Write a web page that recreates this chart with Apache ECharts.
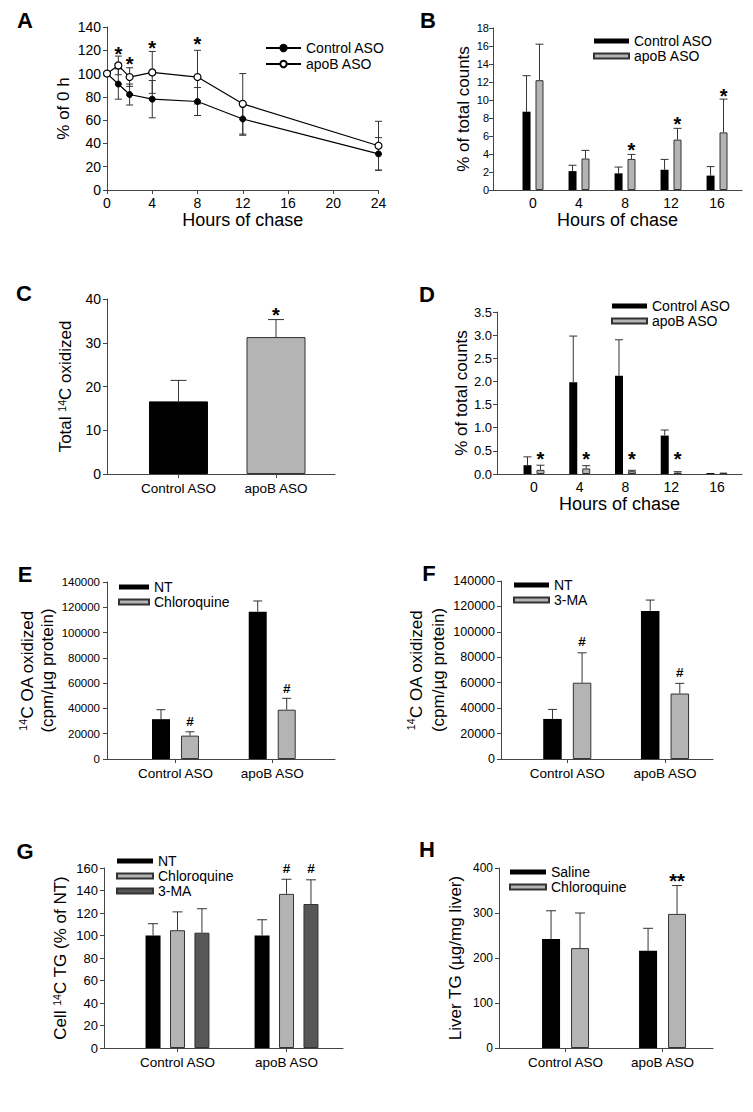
<!DOCTYPE html>
<html><head><meta charset="utf-8">
<script src="https://cdn.jsdelivr.net/npm/echarts@6/dist/echarts.min.js"></script>
<style>html,body{margin:0;padding:0;background:#fff;}#c{width:753px;height:1112px;}</style>
</head><body><div id="c"></div>
<script>
// ================= DATA =================
// Panel A
const aXTicks = [0, 4, 8, 12, 16, 20, 24];
const aYTicks = [0, 20, 40, 60, 80, 100, 120, 140];
const aHours = [0, 1, 2, 4, 8, 12, 24];
const aControl = [100, 91, 82, 78, 76, 61, 31];
const aControlErr = [0, 13, 9, 16, 12, 14, 14];
const aApoB = [100, 107, 97, 101, 97, 74, 38];
const aApoBErr = [0, 8, 8, 18, 23, 26, 21];
const aStarHours = [1, 2, 4, 8];
const aStarY = [121, 112, 126, 129];
// Panel B
const bHours = [0, 4, 8, 12, 16];
const bYTicks = [0, 2, 4, 6, 8, 10, 12, 14, 16, 18];
const bControl = [8.7, 2.1, 1.85, 2.25, 1.6];
const bControlErr = [4.0, 0.65, 0.7, 1.15, 1.0];
const bApoB = [12.2, 3.5, 3.45, 5.6, 6.4];
const bApoBErr = [4.0, 0.9, 0.5, 1.25, 3.7];
const bStarHours = [8, 12, 16];
const bStarY = [4.9, 7.8, 10.95];
// Panel C
const cGroups = ['Control ASO', 'apoB ASO'];
const cYTicks = [0, 10, 20, 30, 40];
const cValues = [16.6, 31.3];
const cErr = [4.8, 4.0];
const cStarY = [37.3];
// Panel D
const dHours = [0, 4, 8, 12, 16];
const dYTicks = [0, 0.5, 1.0, 1.5, 2.0, 2.5, 3.0, 3.5];
const dControl = [0.19, 1.98, 2.12, 0.83, 0.02];
const dControlErr = [0.18, 1.0, 0.78, 0.12, 0];
const dApoB = [0.09, 0.12, 0.06, 0.03, 0.03];
const dApoBErr = [0.1, 0.06, 0.02, 0.02, 0];
const dStarHours = [0, 4, 8, 12];
const dStarY = [0.42, 0.42, 0.42, 0.42];
// Panel E
const eGroups = ['Control ASO', 'apoB ASO'];
const eYTicks = [0, 20000, 40000, 60000, 80000, 100000, 120000, 140000];
const eNT = [31500, 116500];
const eNTErr = [7500, 8500];
const eChloroquine = [18500, 39000];
const eChloroquineErr = [3000, 9000];
const eHashY = [29800, 55800];
// Panel F
const fGroups = ['Control ASO', 'apoB ASO'];
const fYTicks = [0, 20000, 40000, 60000, 80000, 100000, 120000, 140000];
const fNT = [31500, 116500];
const fNTErr = [7500, 8500];
const f3MA = [60000, 51500];
const f3MAErr = [23500, 8000];
const fHashY = [92500, 67800];
// Panel G
const gGroups = ['Control ASO', 'apoB ASO'];
const gYTicks = [0, 20, 40, 60, 80, 100, 120, 140, 160];
const gNT = [100, 100];
const gNTErr = [10.5, 14];
const gChloroquine = [104.7, 137];
const gChloroquineErr = [16.3, 13];
const g3MA = [102.5, 128];
const g3MAErr = [21.3, 21.5];
const gHashY = [160, 160];
// Panel H
const hGroups = ['Control ASO', 'apoB ASO'];
const hYTicks = [0, 100, 200, 300, 400];
const hSaline = [242, 216];
const hSalineErr = [63, 50];
const hChloroquine = [222, 298];
const hChloroquineErr = [78, 63];
const hStarY = [380];

// ================= STYLE / BUILD =================
const FONT = '"Liberation Sans", Arial, Helvetica, sans-serif';
const AXC = '#444444', ERRC = '#333333';
const BLACK = '#000000', GRAY = '#b4b4b4', DARK = '#575757', EDGE = '#333333';
const RICH = { sup: { fontSize: 10.5, verticalAlign: 'top', fontFamily: FONT, color: '#000', lineHeight: 12 } };

const option = { animation: false, backgroundColor: '#ffffff', grid: [], xAxis: [], yAxis: [], series: [], legend: [], graphic: [] };

function addAxes(p) {
  const gi = option.grid.length;
  option.grid.push({ left: p.box[0], top: p.box[1], width: p.box[2], height: p.box[3] });
  const xv = p.xVals;
  option.xAxis.push({
    gridIndex: gi, type: 'value', min: p.xMin, max: p.xMax, splitLine: { show: false },
    axisLine: { onZero: false, lineStyle: { color: AXC, width: 1 } },
    axisTick: { show: !!p.xTick, customValues: xv, length: 4, lineStyle: { color: AXC } },
    axisLabel: { customValues: xv, formatter: (v) => { const k = xv.indexOf(v); return k < 0 ? '' : String(p.xLabels[k]); },
      fontFamily: FONT, fontSize: p.xFont, color: '#000', margin: p.xMargin },
    name: p.xName || '', nameLocation: 'middle', nameGap: p.xNameGap || 20,
    nameTextStyle: { fontFamily: FONT, fontSize: 18, color: '#000', lineHeight: 18 }
  });
  option.yAxis.push({
    gridIndex: gi, type: 'value', min: 0, max: p.yTicks[p.yTicks.length - 1], splitLine: { show: false },
    axisLine: { show: true, onZero: false, lineStyle: { color: AXC, width: 1 } },
    axisTick: { show: true, customValues: p.yTicks, length: 4, lineStyle: { color: AXC } },
    axisLabel: { customValues: p.yTicks, formatter: p.yFmt || ((v) => String(v)), fontFamily: FONT, fontSize: p.yFont, color: '#000', margin: p.yMargin },
    name: p.yName, nameLocation: 'middle', nameRotate: 90, nameGap: p.yNameGap,
    nameTextStyle: { fontFamily: FONT, fontSize: 17, color: '#000', lineHeight: p.yLineHeight || 18, rich: RICH }
  });
  return gi;
}

function errShape(api, off, cap, both) {
  const x = api.value(0), y = api.value(1), e = api.value(2);
  if (!e) return { type: 'group', children: [] };
  const b = api.coord([x, y]);
  const t = api.coord([x, y + e]);
  const cx = b[0] + off;
  const st = { stroke: ERRC, lineWidth: 1 };
  const ch = [
    { type: 'line', shape: { x1: cx, y1: b[1], x2: cx, y2: t[1] }, style: st },
    { type: 'line', shape: { x1: cx - cap, y1: t[1], x2: cx + cap, y2: t[1] }, style: st }
  ];
  if (both) {
    const d = api.coord([x, y - e]);
    ch.push({ type: 'line', shape: { x1: cx, y1: b[1], x2: cx, y2: d[1] }, style: st });
    ch.push({ type: 'line', shape: { x1: cx - cap, y1: d[1], x2: cx + cap, y2: d[1] }, style: st });
  }
  return { type: 'group', children: ch };
}

function markSeries(gi, m, n, step, fs) {
  option.series.push({
    type: 'custom', xAxisIndex: gi, yAxisIndex: gi, z: 6, silent: true,
    data: m.x.map((x, j) => [x, m.y[j], m.slot[j]]),
    renderItem: (params, api) => {
      const pt = api.coord([api.value(0), api.value(1)]);
      const off = (api.value(2) - (n - 1) / 2) * step;
      const t = m.text[params.dataIndex];
      const star = t.charAt(0) === '*';
      const size = star ? fs : fs * 0.75;
      return { type: 'text', x: pt[0] + off, y: pt[1] + (star ? size * 0.22 : 0),
        style: { text: t, align: 'center', verticalAlign: 'middle', fontFamily: FONT, fontSize: size, fontWeight: 'bold', fill: '#000' } };
    }
  });
}

function barPanel(p) {
  const gi = addAxes(p);
  const n = p.groups.length, step = p.barWidth * (1 + p.gap);
  p.groups.forEach((g, k) => {
    const off = (k - (n - 1) / 2) * step;
    option.series.push({
      type: 'bar', name: p.id + '|' + g.name, xAxisIndex: gi, yAxisIndex: gi,
      barWidth: p.barWidth, barGap: (p.gap * 100) + '%', z: 2,
      itemStyle: { color: g.color, borderColor: g.border || g.color, borderWidth: g.border ? 1 : 0 },
      data: p.xVals.map((x, j) => g.colors
        ? { value: [x, g.values[j]], itemStyle: { color: g.colors[j], borderColor: g.borders[j], borderWidth: 1 } }
        : [x, g.values[j]])
    });
    option.series.push({
      type: 'custom', xAxisIndex: gi, yAxisIndex: gi, z: 3, silent: true,
      data: p.xVals.map((x, j) => [x, g.values[j], g.errs[j]]),
      renderItem: (params, api) => errShape(api, off, p.cap, false)
    });
  });
  if (p.marks) markSeries(gi, p.marks, n, step, p.markFont);
  if (p.legend) {
    option.legend.push({
      orient: 'vertical', left: p.legend[0], top: p.legend[1], itemWidth: p.legend[2], itemHeight: 5,
      itemGap: p.legend[3], icon: 'rect', selectedMode: false, padding: 0,
      data: p.groups.map(g => p.id + '|' + g.name),
      formatter: (nm) => nm.split('|')[1],
      textStyle: { fontFamily: FONT, fontSize: 14, color: '#000', lineHeight: 14 }
    });
  }
}

// ---- Panel A (line chart) ----
(function () {
  const p = { box: [107, 27, 271.5, 163], xMin: 0, xMax: 24, xVals: aXTicks, xLabels: aXTicks, xTick: true,
    xFont: 14, xMargin: 6, xName: 'Hours of chase', xNameGap: 19, yTicks: aYTicks, yFont: 14, yMargin: 6,
    yName: '% of 0 h', yNameGap: 35 };
  const gi = addAxes(p);
  const mk = (vals, errs) => aHours.map((h, j) => [h, vals[j], errs[j]]);
  option.series.push({ type: 'custom', xAxisIndex: gi, yAxisIndex: gi, z: 2, silent: true, data: mk(aControl, aControlErr),
    renderItem: (pr, api) => errShape(api, 0, 3.5, true) });
  option.series.push({ type: 'custom', xAxisIndex: gi, yAxisIndex: gi, z: 2, silent: true, data: mk(aApoB, aApoBErr),
    renderItem: (pr, api) => errShape(api, 0, 3.5, true) });
  option.series.push({ type: 'line', name: 'A|Control ASO', xAxisIndex: gi, yAxisIndex: gi, z: 5,
    data: aHours.map((h, j) => [h, aControl[j]]), symbol: 'circle', symbolSize: 6,
    lineStyle: { color: '#000', width: 1.2 }, itemStyle: { color: '#000', borderColor: '#000', borderWidth: 1 } });
  option.series.push({ type: 'line', name: 'A|apoB ASO', xAxisIndex: gi, yAxisIndex: gi, z: 6,
    data: aHours.map((h, j) => [h, aApoB[j]]), symbol: 'circle', symbolSize: 7,
    lineStyle: { color: '#000', width: 1.2 }, itemStyle: { color: '#fff', borderColor: '#000', borderWidth: 1.2 } });
  markSeries(gi, { x: aStarHours, y: aStarY, slot: aStarHours.map(() => 0), text: aStarHours.map(() => '*') }, 1, 0, 20);
  option.legend.push({ orient: 'vertical', left: 265, top: 41, itemWidth: 35, itemHeight: 8, itemGap: 2, selectedMode: false, padding: 0,
    data: ['A|Control ASO', 'A|apoB ASO'], formatter: (nm) => nm.split('|')[1],
    textStyle: { fontFamily: FONT, fontSize: 14, color: '#000', lineHeight: 14 } });
})();

// ---- Panel B ----
barPanel({ id: 'B', box: [493, 28, 249, 162], xMin: -3.478, xMax: 18.17, xVals: bHours, xLabels: bHours, xTick: false,
  xFont: 14, xMargin: 6, xName: 'Hours of chase', xNameGap: 19, yTicks: bYTicks, yFont: 11, yMargin: 4,
  yName: '% of total counts', yNameGap: 19, barWidth: 8, gap: 0.62, cap: 4,
  groups: [{ name: 'Control ASO', color: BLACK, values: bControl, errs: bControlErr },
           { name: 'apoB ASO', color: GRAY, border: EDGE, values: bApoB, errs: bApoBErr }],
  marks: { x: bStarHours, y: bStarY, slot: bStarHours.map(() => 1), text: bStarHours.map(() => '*') }, markFont: 20,
  legend: [593, 34, 35, 1] });

// ---- Panel C ----
barPanel({ id: 'C', box: [107, 299, 228, 175], xMin: -0.733, xMax: 1.605, xVals: [0, 1], xLabels: cGroups, xTick: true,
  xFont: 13.5, xMargin: 7, yTicks: cYTicks, yFont: 14, yMargin: 6,
  yName: 'Total {sup|14}C oxidized', yNameGap: 33, barWidth: 59, gap: 0, cap: 8,
  groups: [{ name: 'C', color: BLACK, colors: [BLACK, GRAY], borders: [BLACK, EDGE], values: cValues, errs: cErr }],
  marks: { x: [1], y: cStarY, slot: [0], text: ['*'] }, markFont: 20 });

// ---- Panel D ----
barPanel({ id: 'D', box: [497, 312, 245, 162], xMin: -3.235, xMax: 18.19, xVals: dHours, xLabels: dHours, xTick: false,
  xFont: 14, xMargin: 6, xName: 'Hours of chase', xNameGap: 18, yTicks: dYTicks, yFont: 13, yMargin: 5,
  yFmt: (v) => v.toFixed(1), yName: '% of total counts', yNameGap: 26, barWidth: 8, gap: 0.62, cap: 4,
  groups: [{ name: 'Control ASO', color: BLACK, values: dControl, errs: dControlErr },
           { name: 'apoB ASO', color: GRAY, border: EDGE, values: dApoB, errs: dApoBErr }],
  marks: { x: dStarHours, y: dStarY, slot: dStarHours.map(() => 1), text: dStarHours.map(() => '*') }, markFont: 20,
  legend: [611, 299, 35, 1] });

// ---- Panel E ----
barPanel({ id: 'E', box: [107, 582, 228, 177], xMin: -0.708, xMax: 1.649, xVals: [0, 1], xLabels: eGroups, xTick: true,
  xFont: 13.5, xMargin: 7, yTicks: eYTicks, yFont: 11.5, yMargin: 7,
  yName: '{sup|14}C OA oxidized\n(cpm/µg protein)', yLineHeight: 20, yNameGap: 43, barWidth: 18, gap: 0.61, cap: 4.5,
  groups: [{ name: 'NT', color: BLACK, values: eNT, errs: eNTErr },
           { name: 'Chloroquine', color: GRAY, border: EDGE, values: eChloroquine, errs: eChloroquineErr }],
  marks: { x: [0, 1], y: eHashY, slot: [1, 1], text: ['#', '#'] }, markFont: 18,
  legend: [118, 580, 30, 1] });

// ---- Panel F ----
barPanel({ id: 'F', box: [501, 581, 212, 178], xMin: -0.678, xMax: 1.491, xVals: [0, 1], xLabels: fGroups, xTick: true,
  xFont: 13.5, xMargin: 7, yTicks: fYTicks, yFont: 12.5, yMargin: 6,
  yName: '{sup|14}C OA oxidized\n(cpm/µg protein)', yLineHeight: 22, yNameGap: 50, barWidth: 18.5, gap: 0.6, cap: 4.5,
  groups: [{ name: 'NT', color: BLACK, values: fNT, errs: fNTErr },
           { name: '3-MA', color: GRAY, border: EDGE, values: f3MA, errs: f3MAErr }],
  marks: { x: [0, 1], y: fHashY, slot: [1, 1], text: ['#', '#'] }, markFont: 18,
  legend: [513, 578, 35, 1] });

// ---- Panel G ----
barPanel({ id: 'G', box: [104, 868, 239, 180], xMin: -0.674, xMax: 1.518, xVals: [0, 1], xLabels: gGroups, xTick: true,
  xFont: 13.5, xMargin: 7, yTicks: gYTicks, yFont: 13, yMargin: 6,
  yName: 'Cell {sup|14}C TG (% of NT)', yNameGap: 35, barWidth: 15, gap: 0.63, cap: 5,
  groups: [{ name: 'NT', color: BLACK, values: gNT, errs: gNTErr },
           { name: 'Chloroquine', color: GRAY, border: EDGE, values: gChloroquine, errs: gChloroquineErr },
           { name: '3-MA', color: DARK, border: EDGE, values: g3MA, errs: g3MAErr }],
  marks: { x: [1, 1], y: gHashY, slot: [1, 2], text: ['#', '#'] }, markFont: 18,
  legend: [116, 854, 36, 1] });

// ---- Panel H ----
barPanel({ id: 'H', box: [499, 868, 214, 180], xMin: -0.686, xMax: 1.52, xVals: [0, 1], xLabels: hGroups, xTick: true,
  xFont: 13.5, xMargin: 7, yTicks: hYTicks, yFont: 12, yMargin: 6,
  yName: 'Liver TG (µg/mg liver)', yNameGap: 35, barWidth: 18, gap: 0.61, cap: 5,
  groups: [{ name: 'Saline', color: BLACK, values: hSaline, errs: hSalineErr },
           { name: 'Chloroquine', color: GRAY, border: EDGE, values: hChloroquine, errs: hChloroquineErr }],
  marks: { x: [1], y: hStarY, slot: [1], text: ['**'] }, markFont: 20,
  legend: [509, 865, 36, 1] });

// ---- Panel letters ----
[['A', 25, 20], ['B', 428, 20], ['C', 24, 293], ['D', 427, 294], ['E', 25, 574], ['F', 429, 573], ['G', 25, 851], ['H', 427, 849]]
  .forEach(([t, x, y]) => option.graphic.push({ type: 'text', x: x, y: y, silent: true,
    style: { text: t, fontFamily: FONT, fontSize: 22, fontWeight: 'bold', fill: '#000', align: 'center', verticalAlign: 'middle' } }));

const chart = echarts.init(document.getElementById('c'), null, { renderer: 'svg', width: 753, height: 1112 });
chart.setOption(option);
</script>
</body></html>
